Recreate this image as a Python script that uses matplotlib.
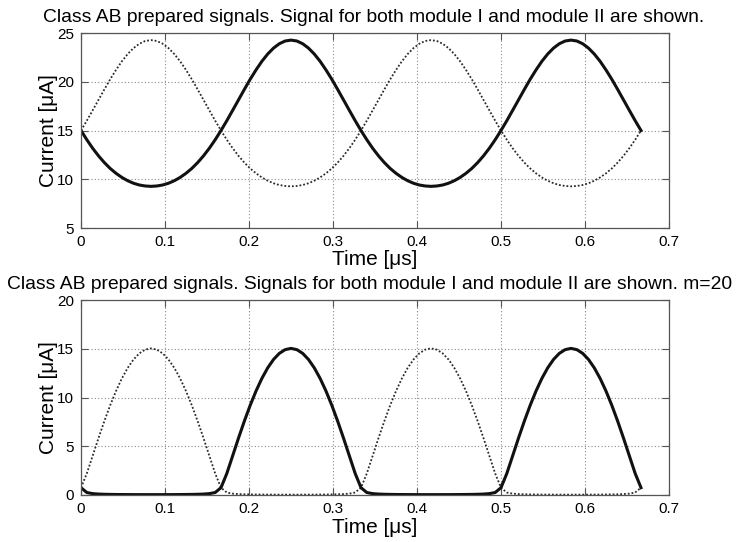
import numpy as np
import matplotlib
matplotlib.use("Agg")
import matplotlib.pyplot as plt

# ---- data -------------------------------------------------------------
# Upper panel: module currents, sampled every 1/144 us over two periods
t_top = np.linspace(0.0, 2.0 / 3.0, 97)
top_module1 = [15.00, 14.05, 13.18, 12.40, 11.71, 11.11, 10.61, 10.19, 9.85,
               9.59, 9.41, 9.31, 9.27, 9.31, 9.41, 9.59, 9.85, 10.19, 10.61,
               11.11, 11.71, 12.40, 13.18, 14.05, 15.00, 16.01, 17.07, 18.14,
               19.21, 20.25, 21.21, 22.09, 22.84, 23.45, 23.90, 24.18, 24.27,
               24.18, 23.90, 23.45, 22.84, 22.09, 21.21, 20.25, 19.21, 18.14,
               17.07, 16.01, 15.00,
               14.05, 13.18, 12.40, 11.71, 11.11, 10.61, 10.19, 9.85,
               9.59, 9.41, 9.31, 9.27, 9.31, 9.41, 9.59, 9.85, 10.19, 10.61,
               11.11, 11.71, 12.40, 13.18, 14.05, 15.00, 16.01, 17.07, 18.14,
               19.21, 20.25, 21.21, 22.09, 22.84, 23.45, 23.90, 24.18, 24.27,
               24.18, 23.90, 23.45, 22.84, 22.09, 21.21, 20.25, 19.21, 18.14,
               17.07, 16.01, 15.00]
top_module2 = [15.00, 16.01, 17.07, 18.14, 19.21, 20.25, 21.21, 22.09, 22.84,
               23.45, 23.90, 24.18, 24.27, 24.18, 23.90, 23.45, 22.84, 22.09,
               21.21, 20.25, 19.21, 18.14, 17.07, 16.01, 15.00, 14.05, 13.18,
               12.40, 11.71, 11.11, 10.61, 10.19, 9.85, 9.59, 9.41, 9.31, 9.27,
               9.31, 9.41, 9.59, 9.85, 10.19, 10.61, 11.11, 11.71, 12.40, 13.18,
               14.05, 15.00,
               16.01, 17.07, 18.14, 19.21, 20.25, 21.21, 22.09, 22.84,
               23.45, 23.90, 24.18, 24.27, 24.18, 23.90, 23.45, 22.84, 22.09,
               21.21, 20.25, 19.21, 18.14, 17.07, 16.01, 15.00, 14.05, 13.18,
               12.40, 11.71, 11.11, 10.61, 10.19, 9.85, 9.59, 9.41, 9.31, 9.27,
               9.31, 9.41, 9.59, 9.85, 10.19, 10.61, 11.11, 11.71, 12.40, 13.18,
               14.05, 15.00]

# Lower panel (m=20): sampled every 1/144 us over two periods
t_bot = np.linspace(0.0, 2.0 / 3.0, 97)
bot_module1 = [0.750, 0.254, 0.140, 0.096, 0.074, 0.061, 0.053, 0.047, 0.043,
               0.040, 0.039, 0.038, 0.037, 0.038, 0.039, 0.040, 0.043, 0.047,
               0.053, 0.061, 0.074, 0.096, 0.140, 0.254, 0.750, 2.212, 4.022,
               5.837, 7.574, 9.193, 10.659, 11.947, 13.034, 13.899, 14.528,
               14.909, 15.037, 14.909, 14.528, 13.899, 13.034, 11.947, 10.659,
               9.193, 7.574, 5.837, 4.022, 2.212, 0.750,
               0.254, 0.140, 0.096, 0.074, 0.061, 0.053, 0.047, 0.043,
               0.040, 0.039, 0.038, 0.037, 0.038, 0.039, 0.040, 0.043, 0.047,
               0.053, 0.061, 0.074, 0.096, 0.140, 0.254, 0.750, 2.212, 4.022,
               5.837, 7.574, 9.193, 10.659, 11.947, 13.034, 13.899, 14.528,
               14.909, 15.037, 14.909, 14.528, 13.899, 13.034, 11.947, 10.659,
               9.193, 7.574, 5.837, 4.022, 2.212, 0.750]
bot_module2 = [0.750, 2.212, 4.022, 5.837, 7.574, 9.193, 10.659, 11.947, 13.034,
               13.899, 14.528, 14.909, 15.037, 14.909, 14.528, 13.899, 13.034,
               11.947, 10.659, 9.193, 7.574, 5.837, 4.022, 2.212, 0.750, 0.254,
               0.140, 0.096, 0.074, 0.061, 0.053, 0.047, 0.043, 0.040, 0.039,
               0.038, 0.037, 0.038, 0.039, 0.040, 0.043, 0.047, 0.053, 0.061,
               0.074, 0.096, 0.140, 0.254, 0.750,
               2.212, 4.022, 5.837, 7.574, 9.193, 10.659, 11.947, 13.034,
               13.899, 14.528, 14.909, 15.037, 14.909, 14.528, 13.899, 13.034,
               11.947, 10.659, 9.193, 7.574, 5.837, 4.022, 2.212, 0.750, 0.254,
               0.140, 0.096, 0.074, 0.061, 0.053, 0.047, 0.043, 0.040, 0.039,
               0.038, 0.037, 0.038, 0.039, 0.040, 0.043, 0.047, 0.053, 0.061,
               0.074, 0.096, 0.140, 0.254, 0.750]

x_ticks = [0, 0.1, 0.2, 0.3, 0.4, 0.5, 0.6, 0.7]
x_tick_labels = ["0", "0.1", "0.2", "0.3", "0.4", "0.5", "0.6", "0.7"]
top_y_ticks = [5, 10, 15, 20, 25]
bot_y_ticks = [0, 5, 10, 15, 20]

title_top = "Class AB prepared signals. Signal for both module I and module II are shown."
title_bot = "Class AB prepared signals. Signals for both module I and module II are shown. m=20"
x_label = "Time [\u03bcs]"
y_label = "Current [\u03bcA]"

# ---- figure -----------------------------------------------------------
plt.rcParams["font.family"] = ["Liberation Sans", "DejaVu Sans"]
W, H = 740, 542
fig = plt.figure(figsize=(W / 100, H / 100), dpi=100)
fig.patch.set_facecolor("white")


def px_rect(left, top, right, bottom):
    return [left / W, 1 - bottom / H, (right - left) / W, (bottom - top) / H]


def style_axes(ax, yticks, ylim):
    ax.set_xlim(0, 0.7)
    ax.set_ylim(*ylim)
    ax.set_xticks(x_ticks)
    ax.set_xticklabels(x_tick_labels)
    ax.set_yticks(yticks)
    ax.set_yticklabels([str(v) for v in yticks])
    ax.tick_params(direction="in", length=5, width=0.8, color="#555555",
                   labelsize=11, labelcolor="black", top=True, right=True,
                   pad=5)
    for sp in ax.spines.values():
        sp.set_color("#555555")
        sp.set_linewidth(0.9)
    ax.grid(True, color="#8a8a8a", linestyle=(0, (1, 2)), linewidth=0.8)
    ax.set_axisbelow(True)


ax1 = fig.add_axes(px_rect(81, 33, 669, 228))
ax1.plot(t_top, top_module2, color="#2a2a2a", linewidth=1.3,
         linestyle=(0, (1.0, 1.1)), solid_capstyle="butt")
ax1.plot(t_top, top_module1, color="#111111", linewidth=2.2)
style_axes(ax1, top_y_ticks, (5, 25))

ax2 = fig.add_axes(px_rect(81, 300, 669, 495))
ax2.plot(t_bot, bot_module2, color="#2a2a2a", linewidth=1.3,
         linestyle=(0, (1.0, 1.1)), solid_capstyle="butt")
ax2.plot(t_bot, bot_module1, color="#111111", linewidth=2.2)
style_axes(ax2, bot_y_ticks, (0, 20))


# titles and axis labels placed in pixel coordinates
def fig_text(x, y, s, **kw):
    fig.text(x / W, 1 - y / H, s, **kw)


fig_text(374, 21.5, title_top, ha="center", va="baseline", fontsize=13.9)
fig_text(370, 289, title_bot, ha="center", va="baseline", fontsize=13.9)
fig_text(375, 265, x_label, ha="center", va="baseline", fontsize=15)
fig_text(375, 533, x_label, ha="center", va="baseline", fontsize=15)
fig_text(48, 130.5, y_label, ha="center", va="center", rotation=90, fontsize=15)
fig_text(48, 397.5, y_label, ha="center", va="center", rotation=90, fontsize=15)

fig.savefig("out.png", dpi=100)
